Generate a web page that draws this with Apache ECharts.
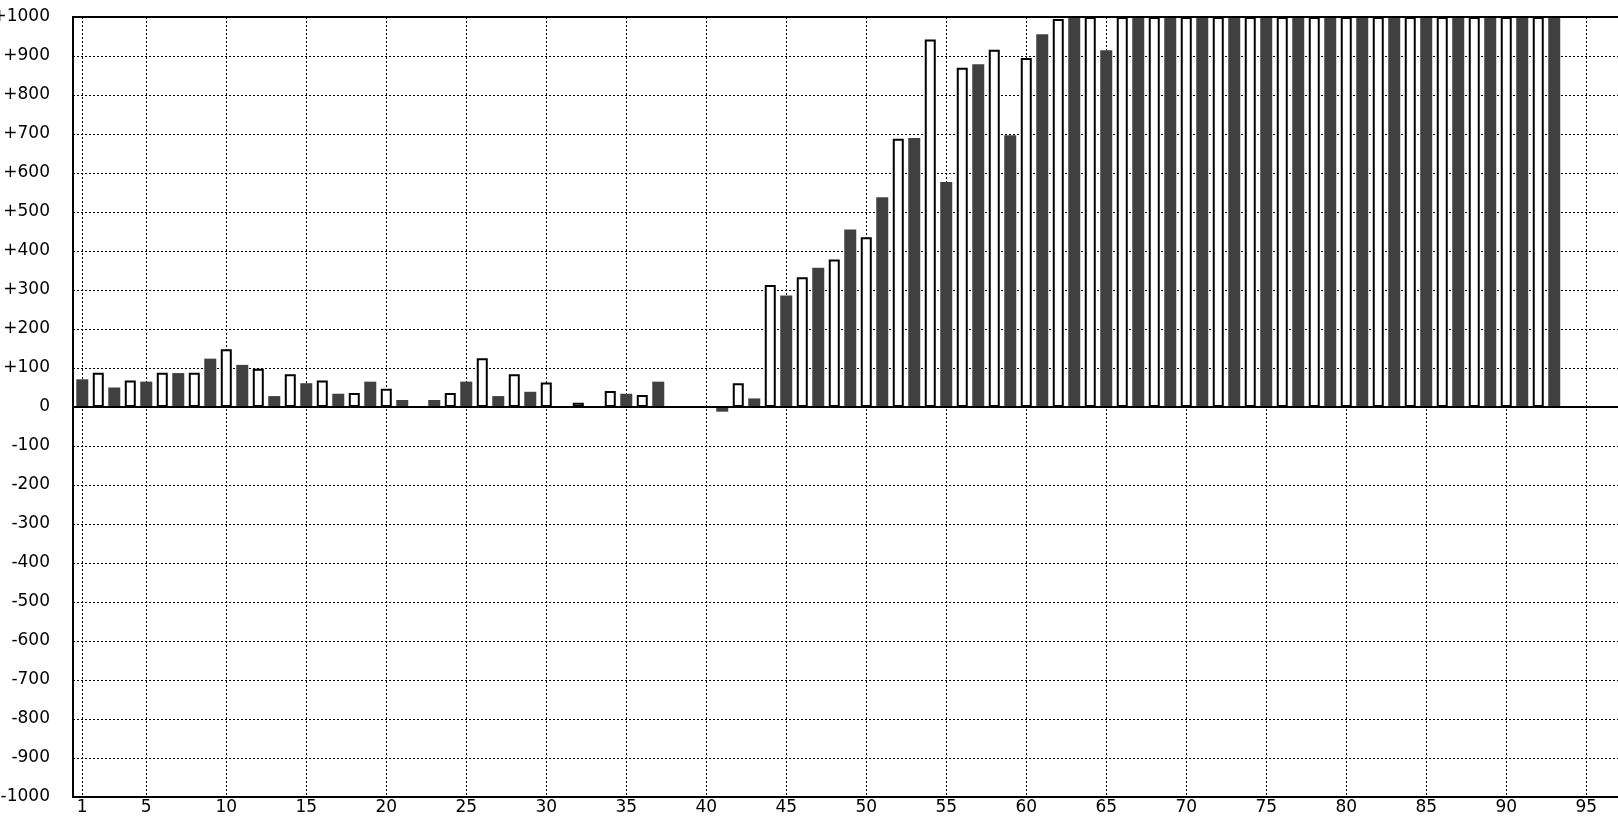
<!DOCTYPE html>
<html>
<head>
<meta charset="utf-8">
<script src="https://cdn.jsdelivr.net/npm/echarts@6/dist/echarts.min.js"></script>
<style>
  html, body { margin: 0; padding: 0; background: #fff; }
  #chart { width: 1618px; height: 818px; }
</style>
</head>
<body>
<div id="chart"></div>
<script>
// Dark (filled) bars sit on odd categories
const darkCats = [1,3,5,7,9,11,13,15,17,19,21,23,25,27,29,31,33,35,37,39,41,43,45,47,49,51,53,55,57,59,61,63,65,67,69,71,73,75,77,79,81,83,85,87,89,91,93];
const darkValues = [71,50,65,87,124,108,28,61,34,65,18,18,65,28,39,null,null,34,65,null,-12,22,286,357,455,538,690,577,879,697,956,1000,915,1000,1000,1000,1000,1000,1000,1000,1000,1000,1000,1000,1000,1000,1000];
// White (outlined) bars sit on even categories
const lightCats = [2,4,6,8,10,12,14,16,18,20,22,24,26,28,30,32,34,36,38,40,42,44,46,48,50,52,54,56,58,60,62,64,66,68,70,72,74,76,78,80,82,84,86,88,90,92];
const lightValues = [88,68,88,88,148,98,84,68,36,47,null,36,125,84,63,11,41,31,null,null,61,313,333,378,435,688,942,870,916,895,995,1000,1000,1000,1000,1000,1000,1000,1000,1000,1000,1000,1000,1000,1000,1000];
// Tick labels
const xTicks = [1,5,10,15,20,25,30,35,40,45,50,55,60,65,70,75,80,85,90,95];
const yMin = -1000, yMax = 1000, yStep = 100;
const xMin = 0.42, xMax = 97.11;

const FONT = 'DejaVu Sans';
const dotted = { color: '#000', width: 1, type: [2, 2] };

function pairs(cats, vals) {
  const out = [];
  for (let i = 0; i < cats.length; i++) {
    if (vals[i] !== null && vals[i] !== undefined) out.push([cats[i], vals[i]]);
  }
  return out;
}

const chart = echarts.init(document.getElementById('chart'), null, { renderer: 'canvas' });
chart.setOption({
  animation: false,
  backgroundColor: '#fff',
  grid: {
    left: 73, top: 17, right: -2, bottom: 21,
    containLabel: false,
    outerBoundsMode: 'none',
    show: true,
    borderColor: '#000',
    borderWidth: 2,
    backgroundColor: 'transparent'
  },
  xAxis: [
    {
      type: 'value', min: xMin, max: xMax,
      axisLine: { show: true, onZero: false, lineStyle: { color: '#000', width: 2 } },
      axisTick: { show: false, customValues: xTicks },
      axisLabel: { customValues: xTicks, color: '#000', fontFamily: FONT, fontSize: 17, margin: 2,
                   showMinLabel: true, showMaxLabel: true, hideOverlap: false },
      splitLine: { show: true, lineStyle: dotted }
    },
    {
      type: 'value', min: xMin, max: xMax, show: false,
      axisLine: { show: false }, axisTick: { show: false }, axisLabel: { show: false },
      splitLine: { show: false }
    }
  ],
  yAxis: {
    type: 'value', min: yMin, max: yMax, interval: yStep,
    axisLine: { show: true, lineStyle: { color: '#000', width: 2 } },
    axisTick: { show: false },
    axisLabel: {
      color: '#000', fontFamily: FONT, fontSize: 17, margin: 23,
      showMinLabel: true, showMaxLabel: true,
      formatter: v => (v > 0 ? '+' + v : String(v))
    },
    splitLine: { show: true, lineStyle: dotted }
  },
  series: [
    {
      type: 'bar', name: 'dark', xAxisIndex: 0,
      data: pairs(darkCats, darkValues),
      barWidth: 12,
      itemStyle: { color: '#404040' },
      markLine: {
        silent: true, symbol: 'none', label: { show: false },
        lineStyle: { color: '#000', width: 2, type: 'solid' },
        data: [{ yAxis: 0 }, { yAxis: yMax }]
      }
    },
    {
      type: 'bar', name: 'light', xAxisIndex: 1,
      data: pairs(lightCats, lightValues),
      barWidth: 11,
      itemStyle: { color: '#fff', borderColor: '#000', borderWidth: 2 }
    }
  ]
});
</script>
</body>
</html>
